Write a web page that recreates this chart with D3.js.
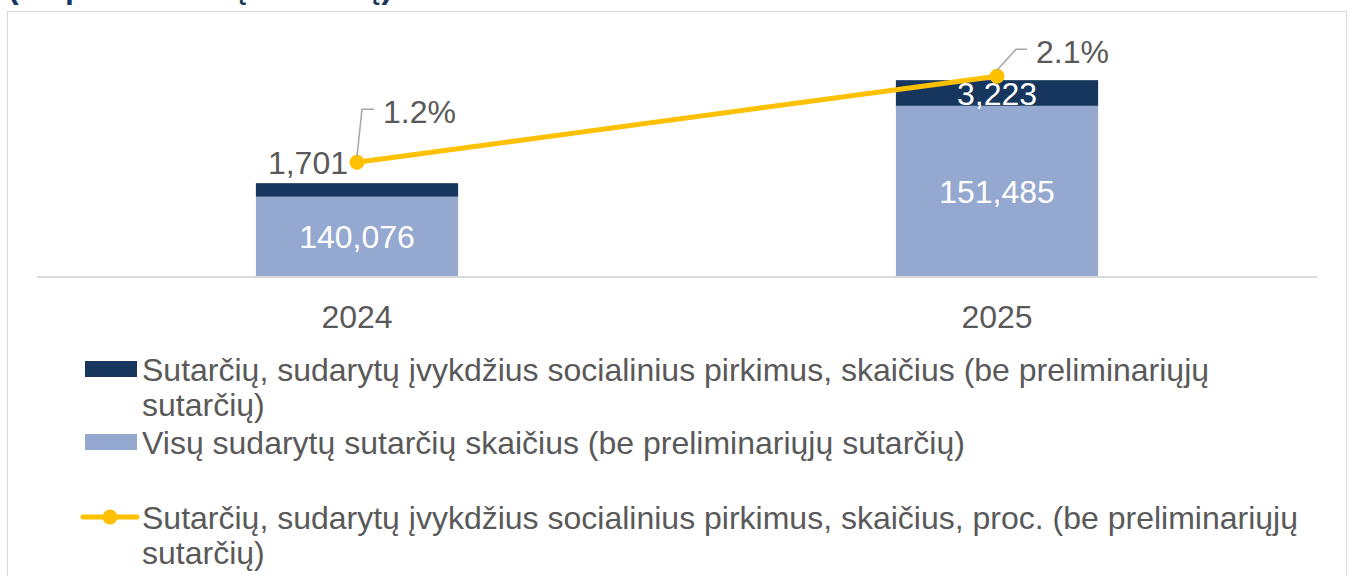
<!DOCTYPE html>
<html>
<head>
<meta charset="utf-8">
<script src="https://cdn.jsdelivr.net/npm/d3@7"></script>
<style>
  body { margin: 0; background: #fff; }
  svg { display: block; font-family: Arial, "Liberation Sans", sans-serif; }
</style>
</head>
<body>
<div id="chart"></div>
<script>
// Chart data
const years = ["2024", "2025"];
const totalContracts = [140076, 151485];
const socialContracts = [1701, 3223];
const socialShare = [0.012, 0.021];
const seriesNames = [
    "Sutarčių, sudarytų įvykdžius socialinius pirkimus, skaičius (be preliminariųjų sutarčių)",
    "Visų sudarytų sutarčių skaičius (be preliminariųjų sutarčių)",
    "Sutarčių, sudarytų įvykdžius socialinius pirkimus, skaičius, proc. (be preliminariųjų sutarčių)"
];
const titleText = "(be preliminarių sutarčių)";

const width = 1350, height = 576;
const colors = { dark: "#17365d", light: "#95a9d0", line: "#ffc000", text: "#595959", grid: "#d9d9d9" };
const fmt = d3.format(",");
const pct = d3.format(".1%");
const fontSize = "32px";

const svg = d3.select("#chart").append("svg")
    .attr("width", width)
    .attr("height", height);

// Outer frame (runs past the bottom edge)
svg.append("rect")
    .attr("x", 7.5).attr("y", 11.5)
    .attr("width", 1339).attr("height", 620)
    .attr("fill", "none")
    .attr("stroke", colors.grid);

// Title, mostly cut off at the top
svg.append("text")
    .attr("x", 8).attr("y", -2)
    .attr("fill", "#17365d")
    .attr("font-weight", "bold")
    .attr("font-size", fontSize)
    .text(titleText);

// Scales
const x = d3.scaleBand()
    .domain(years)
    .range([37, 1317])
    .paddingInner(0.684)
    .paddingOuter(0.342);

const y = d3.scaleLinear().domain([130000, 160000]).range([277, 38]);
const y2 = d3.scaleLinear().domain([0, 0.025]).range([277, 38]);

// Stacked bars
const rows = years.map((yr, i) => ({
    year: yr,
    total: totalContracts[i],
    social: socialContracts[i],
    share: socialShare[i]
}));

const bars = svg.selectAll("g.bar")
    .data(rows)
    .enter()
    .append("g")
    .attr("class", "bar");

bars.append("rect")
    .attr("x", d => x(d.year))
    .attr("width", x.bandwidth())
    .attr("y", d => y(d.total))
    .attr("height", d => y.range()[0] - y(d.total))
    .attr("fill", colors.light);

bars.append("rect")
    .attr("x", d => x(d.year))
    .attr("width", x.bandwidth())
    .attr("y", d => y(d.total + d.social))
    .attr("height", d => y(d.total) - y(d.total + d.social))
    .attr("fill", colors.dark);

// Baseline
svg.append("line")
    .attr("x1", 37).attr("x2", 1317)
    .attr("y1", 277).attr("y2", 277)
    .attr("stroke", colors.grid)
    .attr("stroke-width", 2);

// X axis labels
const xAxis = svg.append("g")
    .attr("transform", "translate(0,277)")
    .call(d3.axisBottom(x).tickSize(0).tickPadding(28));
xAxis.select(".domain").remove();
xAxis.selectAll("text")
    .attr("font-size", fontSize)
    .attr("font-family", "Arial, 'Liberation Sans', sans-serif")
    .attr("fill", colors.text);

// Bar value labels
bars.append("text")
    .attr("x", d => x(d.year) + x.bandwidth() / 2)
    .attr("y", d => (y(d.total) + y.range()[0]) / 2)
    .attr("dy", "0.36em")
    .attr("text-anchor", "middle")
    .attr("font-size", fontSize)
    .attr("fill", "#fff")
    .text(d => fmt(d.total));

bars.append("text")
    .attr("x", (d, i) => i === 0 ? x(d.year) + x.bandwidth() / 2 - 9 : x(d.year) + x.bandwidth() / 2)
    .attr("y", (d, i) => i === 0 ? y(d.total + d.social) - 21 : (y(d.total) + y(d.total + d.social)) / 2)
    .attr("dy", "0.36em")
    .attr("text-anchor", (d, i) => i === 0 ? "end" : "middle")
    .attr("font-size", fontSize)
    .attr("fill", (d, i) => i === 0 ? colors.text : "#fff")
    .text(d => fmt(d.social));

// Share line
const cx = d => x(d.year) + x.bandwidth() / 2;
svg.append("path")
    .datum(rows)
    .attr("fill", "none")
    .attr("stroke", colors.line)
    .attr("stroke-width", 5)
    .attr("d", d3.line().x(cx).y(d => y2(d.share)));

svg.selectAll("circle.pt")
    .data(rows)
    .enter()
    .append("circle")
    .attr("class", "pt")
    .attr("cx", cx)
    .attr("cy", d => y2(d.share))
    .attr("r", 7.5)
    .attr("fill", colors.line);

// Share labels with leader lines
const leaderOffsets = [[5, -53, 12], [19, -27, 11]];
rows.forEach((d, i) => {
    const px = cx(d), py = y2(d.share);
    const [dx, dy, run] = leaderOffsets[i];
    svg.append("polyline")
        .attr("points", `${px},${py - 6} ${px + dx},${py + dy} ${px + dx + run},${py + dy}`)
        .attr("fill", "none")
        .attr("stroke", "#a6a6a6")
        .attr("stroke-width", 1.5);
    svg.append("text")
        .attr("x", px + dx + run + 9)
        .attr("y", py + dy + 2)
        .attr("dy", "0.36em")
        .attr("font-size", fontSize)
        .attr("fill", colors.text)
        .text(pct(d.share));
});

// Legend
function wrapLines(textSel, str, maxWidth) {
    const words = str.split(" ");
    const lines = [];
    let cur = "";
    const probe = textSel.append("tspan");
    words.forEach(w => {
        const test = cur ? cur + " " + w : w;
        probe.text(test);
        if (probe.node().getComputedTextLength() > maxWidth && cur) {
            lines.push(cur);
            cur = w;
        } else {
            cur = test;
        }
    });
    lines.push(cur);
    probe.remove();
    return lines;
}

const legendItems = [
    { name: seriesNames[0], type: "rect", color: colors.dark, y: 369 },
    { name: seriesNames[1], type: "rect", color: colors.light, y: 442 },
    { name: seriesNames[2], type: "line", color: colors.line, y: 517 }
];

const legend = svg.append("g");
legendItems.forEach(item => {
    if (item.type === "rect") {
        legend.append("rect")
            .attr("x", 85).attr("y", item.y - 8)
            .attr("width", 52).attr("height", 16)
            .attr("fill", item.color);
    } else {
        legend.append("line")
            .attr("x1", 83).attr("x2", 137)
            .attr("y1", item.y).attr("y2", item.y)
            .attr("stroke", item.color)
            .attr("stroke-width", 5)
            .attr("stroke-linecap", "round");
        legend.append("circle")
            .attr("cx", 110).attr("cy", item.y)
            .attr("r", 7.5)
            .attr("fill", item.color);
    }
    const t = legend.append("text")
        .attr("x", 142)
        .attr("y", item.y)
        .attr("font-size", fontSize)
        .attr("fill", colors.text);
    const lines = wrapLines(t, item.name, 1180);
    lines.forEach((ln, k) => {
        t.append("tspan")
            .attr("x", 142)
            .attr("y", item.y + k * 35)
            .attr("dy", "0.36em")
            .text(ln);
    });
});
</script>
</body>
</html>
